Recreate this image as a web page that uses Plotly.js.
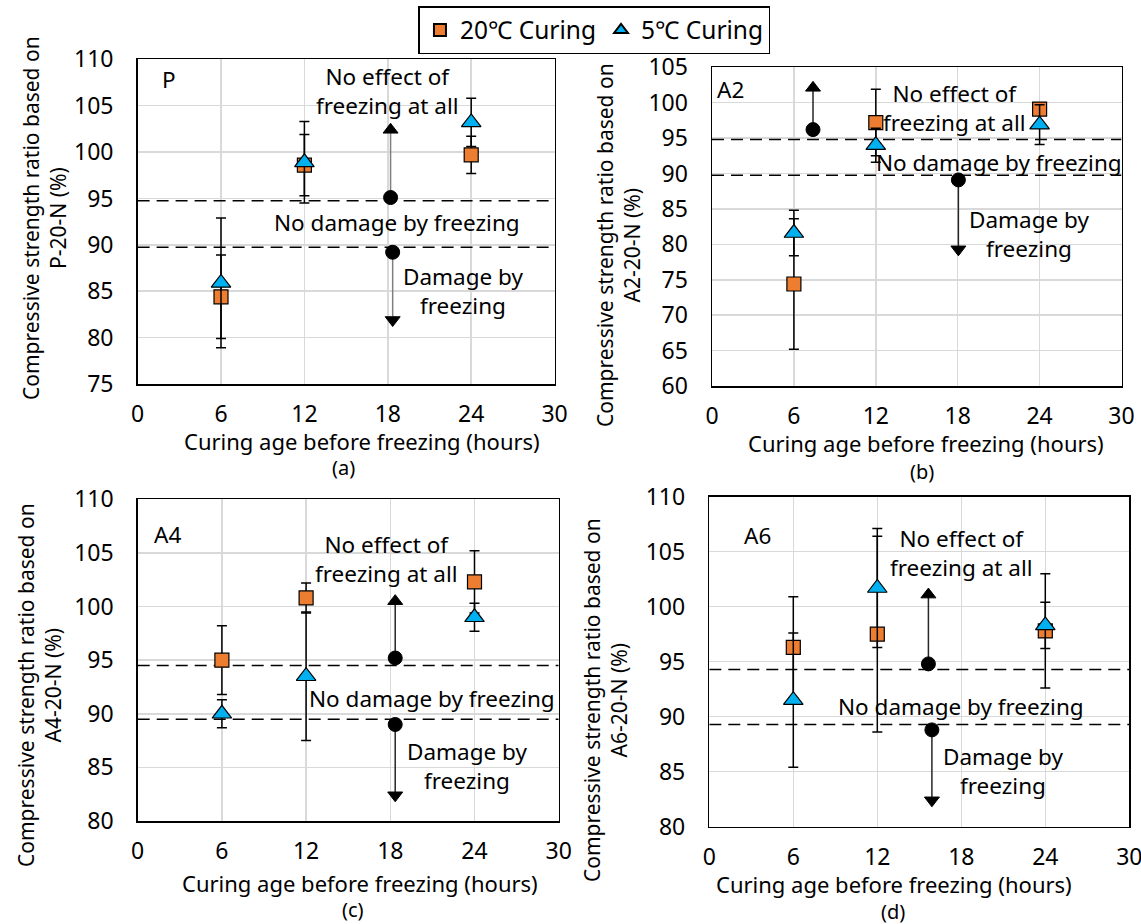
<!DOCTYPE html>
<html>
<head>
<meta charset="utf-8">
<script src="https://cdn.plot.ly/plotly-3.0.1.min.js"></script>
<style>html,body{margin:0;padding:0;background:#fff;}#chart{width:1141px;height:924px;}</style>
</head>
<body>
<div id="chart"></div>
<script>
// ---------- data ----------
const hours = [6, 12, 24];
const seriesNames = ["20℃ Curing", "5℃ Curing"];
const panelNames = ["P", "A2", "A4", "A6"];
const panelLetters = ["(a)", "(b)", "(c)", "(d)"];
const yTitles = [
  "Compressive strength ratio based on<br>P-20-N (%)",
  "Compressive strength ratio based on<br>A2-20-N (%)",
  "Compressive strength ratio based on<br>A4-20-N (%)",
  "Compressive strength ratio based on<br>A6-20-N (%)"
];
const xTitle = "Curing age before freezing (hours)";
const yRanges = [[75, 110], [60, 105], [80, 110], [80, 110]];

// 20℃ curing (squares)
const cure20 = [
  [84.4, 98.6, 99.7],
  [74.4, 97.2, 99.1],
  [95.0, 100.8, 102.3],
  [96.3, 97.5, 97.8]
];
const cure20Err = [
  [4.5, 3.3, 2.0],
  [9.2, 4.7, 0.5],
  [3.2, 1.4, 2.9],
  [4.6, 8.9, 5.2]
];
// 5℃ curing (triangles)
const cure5 = [
  [85.9, 98.9, 103.2],
  [81.6, 94.0, 96.9],
  [90.0, 93.5, 99.0],
  [91.5, 101.7, 98.3]
];
const cure5Err = [
  [7.0, 4.4, 2.6],
  [3.2, 2.4, 2.8],
  [1.3, 6.0, 1.3],
  [6.1, 5.4, 2.1]
];
// threshold (dashed) lines
const noEffectLine = [94.75, 94.8, 94.5, 94.3];
const noDamageLine = [89.75, 89.75, 89.5, 89.3];
// indicator arrows: x position, circle value, arrow-tip value
const upArrowX = [18.2, 7.4, 18.35, 15.65];
const upArrowFrom = [95.1, 96.2, 95.2, 94.8];
const upArrowTo = [102.4, 102.1, 100.5, 101.1];
const downArrowX = [18.35, 18.05, 18.35, 15.9];
const downArrowFrom = [89.2, 89.1, 89.0, 88.8];
const downArrowTo = [81.9, 79.3, 82.4, 82.4];
// text labels
const labelNoEffect = "No effect of<br>freezing at all";
const labelNoDamage = "No damage by freezing";
const labelDamage = "Damage by<br>freezing";

// ---------- layout helpers (pixel based) ----------
const W = 1141, H = 924;
const px = v => v / W;
const py = v => 1 - v / H;
const FONT = '"Noto Sans", "Open Sans", sans-serif';
// plot boxes [left, right, top, bottom] in px
const boxes = [
  [137.6, 554.6, 59.3, 384],
  [712, 1121.5, 67.3, 386],
  [137.7, 558.7, 499.3, 821],
  [709.3, 1129.3, 496.7, 826.7]
];
// panel label, text positions in data coords
const panelLabelPos = [[1.6, 107.8], [0.2, 101.9], [1.0, 106.7], [2.3, 106.5]];
const noEffectPos = [[18.0, 106.6], [17.8, 99.2], [17.75, 104.45], [18.0, 104.85]];
const noDamagePos = [[18.66, 92.36], [21.0, 91.5], [20.95, 91.46], [17.96, 90.9]];
const damagePos = [[23.4, 85.0], [23.2, 81.45], [23.5, 85.14], [21.0, 85.06]];
// title positions (px)
const yTitlePos = [[45, 218], [618, 245], [39, 685], [605, 700]];
const xTitlePos = [[362, 441], [926, 443], [360, 883], [894, 884]];
const letterPos = [[344, 467], [922, 471], [353, 909], [893, 911]];

const traces = [];
const layout = {
  width: W, height: H,
  margin: {l: 0, r: 0, t: 0, b: 0},
  paper_bgcolor: 'white', plot_bgcolor: 'white',
  font: {family: FONT, color: 'black', size: 22},
  showlegend: true,
  legend: {
    orientation: 'h', x: 0.521, xanchor: 'center', y: py(6), yanchor: 'top',
    bordercolor: 'black', borderwidth: 1.5, bgcolor: 'white',
    font: {family: FONT, size: 24.5, color: 'black'},
    itemsizing: 'constant', traceorder: 'normal', tracegroupgap: 0
  },
  annotations: []
};

for (let i = 0; i < 4; i++) {
  const n = i === 0 ? '' : String(i + 1);
  const xa = 'x' + n, ya = 'y' + n;
  const b = boxes[i];
  const common = {
    showgrid: true, gridcolor: '#d9d9d9', gridwidth: 1.5,
    showline: true, linecolor: 'black', linewidth: 1.5, mirror: true,
    zeroline: false, ticks: '', fixedrange: true, ticklabeloverflow: 'allow',
    tickfont: {family: FONT, size: 23, color: 'black'}
  };
  layout['xaxis' + n] = Object.assign({}, common, {
    domain: [px(b[0]), px(b[1])], anchor: ya, range: [0, 30], tick0: 0, dtick: 6,
    ticklabelstandoff: 9
  });
  layout['yaxis' + n] = Object.assign({}, common, {
    domain: [py(b[3]), py(b[2])], anchor: xa, range: yRanges[i], tick0: 0, dtick: 5,
    ticklabelstandoff: 18
  });

  // dashed threshold lines
  [noEffectLine[i], noDamageLine[i]].forEach(v => {
    traces.push({
      type: 'scatter', mode: 'lines', x: [0, 30], y: [v, v], xaxis: xa, yaxis: ya,
      line: {color: 'black', width: 1.5, dash: '12px,7px'}, showlegend: false, hoverinfo: 'skip'
    });
  });
  // arrows
  const arrowMarker = sym => ({symbol: ['circle', sym], size: [14, 13], color: 'black',
    line: {color: 'black', width: 1}, opacity: 1});
  traces.push({
    type: 'scatter', mode: 'lines+markers', xaxis: xa, yaxis: ya,
    x: [upArrowX[i], upArrowX[i]], y: [upArrowFrom[i], upArrowTo[i]],
    line: {color: i === 0 ? '#7f7f7f' : '#262626', width: 1.5},
    marker: arrowMarker('triangle-up'),
    showlegend: false, hoverinfo: 'skip'
  });
  traces.push({
    type: 'scatter', mode: 'lines+markers', xaxis: xa, yaxis: ya,
    x: [downArrowX[i], downArrowX[i]], y: [downArrowFrom[i], downArrowTo[i]],
    line: {color: i === 0 ? '#7f7f7f' : '#262626', width: 1.5},
    marker: arrowMarker('triangle-down'),
    showlegend: false, hoverinfo: 'skip'
  });
  // 20℃ squares
  traces.push({
    type: 'scatter', mode: 'markers', name: seriesNames[0], legendgroup: 's20',
    showlegend: i === 0, xaxis: xa, yaxis: ya, x: hours, y: cure20[i],
    error_y: {type: 'data', array: cure20Err[i], visible: true, color: 'black', thickness: 1.5, width: 5},
    marker: {symbol: 'square', size: 14, color: '#ED7D31', line: {color: 'black', width: 1.2}}
  });
  // 5℃ triangles
  traces.push({
    type: 'scatter', mode: 'markers', name: seriesNames[1], legendgroup: 's5',
    showlegend: i === 0, xaxis: xa, yaxis: ya, x: hours, y: cure5[i],
    error_y: {type: 'data', array: cure5Err[i], visible: true, color: 'black', thickness: 1.5, width: 5},
    marker: {symbol: 'triangle-up', size: 17, color: '#00B0F0', line: {color: 'black', width: 1.2}}
  });

  const tf = {family: FONT, size: 22.5, color: 'black'};
  const A = layout.annotations;
  A.push({xref: xa, yref: ya, x: panelLabelPos[i][0], y: panelLabelPos[i][1], text: panelNames[i],
    showarrow: false, xanchor: 'left', yanchor: 'middle', font: tf});
  A.push({xref: xa, yref: ya, x: noEffectPos[i][0], y: noEffectPos[i][1], text: labelNoEffect,
    showarrow: false, xanchor: 'center', yanchor: 'middle', align: 'center', font: tf});
  A.push({xref: xa, yref: ya, x: noDamagePos[i][0], y: noDamagePos[i][1], text: labelNoDamage,
    showarrow: false, xanchor: 'center', yanchor: 'middle', font: tf});
  A.push({xref: xa, yref: ya, x: damagePos[i][0], y: damagePos[i][1], text: labelDamage,
    showarrow: false, xanchor: 'center', yanchor: 'middle', align: 'center', font: tf});
  // axis titles
  A.push({xref: 'paper', yref: 'paper', x: px(yTitlePos[i][0]), y: py(yTitlePos[i][1]), text: yTitles[i],
    textangle: -90, showarrow: false, xanchor: 'center', yanchor: 'middle', align: 'center',
    font: {family: FONT, size: 21, color: 'black'}});
  A.push({xref: 'paper', yref: 'paper', x: px(xTitlePos[i][0]), y: py(xTitlePos[i][1]), text: xTitle,
    showarrow: false, xanchor: 'center', yanchor: 'middle', font: {family: FONT, size: 22, color: 'black'}});
  A.push({xref: 'paper', yref: 'paper', x: px(letterPos[i][0]), y: py(letterPos[i][1]), text: panelLetters[i],
    showarrow: false, xanchor: 'center', yanchor: 'middle', font: {family: FONT, size: 20, color: 'black'}});
}

Plotly.newPlot('chart', traces, layout, {displayModeBar: false, staticPlot: true});
</script>
</body>
</html>
